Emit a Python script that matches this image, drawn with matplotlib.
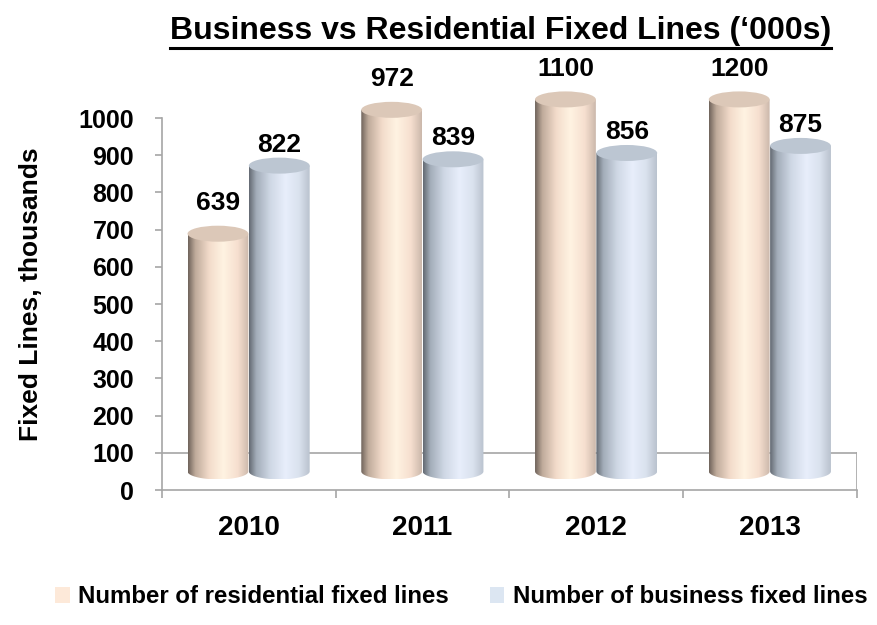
import numpy as np
import matplotlib
matplotlib.use("Agg")
import matplotlib.pyplot as plt
from matplotlib.patches import Ellipse, Polygon, Patch
from matplotlib.colors import LinearSegmentedColormap
from matplotlib.lines import Line2D

plt.rcParams['font.family'] = ['Liberation Sans', 'DejaVu Sans']
plt.rcParams['font.weight'] = 'bold'

years = ["2010", "2011", "2012", "2013"]
residential = [639, 972, 1100, 1200]
business = [822, 839, 856, 875]
y_ticks = [0, 100, 200, 300, 400, 500, 600, 700, 800, 900, 1000]

# axis cap (bars above it are cut off) and depth lift of the 3D floor
ymax_axis = 1000
depth = 50
cap_h = 43     # height of the top ellipse in data units
bar_w = 0.35

res_cmap = LinearSegmentedColormap.from_list("res", [
    (0.0, "#6f635b"), (0.12, "#bfab9b"), (0.35, "#f3dccb"),
    (0.58, "#fff3e2"), (0.82, "#f6dfcf"), (1.0, "#cbb8ab")])
bus_cmap = LinearSegmentedColormap.from_list("bus", [
    (0.0, "#646a72"), (0.12, "#a3adb9"), (0.35, "#cfd8e5"),
    (0.6, "#e8eefb"), (0.82, "#dae2ee"), (1.0, "#b9c2ce")])
res_top = "#dcc8b8"
bus_top = "#bcc6d2"

fig = plt.figure(figsize=(8.77, 6.25), dpi=100)
ax = fig.add_axes([0.1847, 0.216, 0.7925, 0.6547])
ax.set_xlim(-0.5, 3.5)
ax.set_ylim(0, 1100)

gradient = np.linspace(0, 1, 256).reshape(1, -1)


def cylinder(xc, value, cmap, top_color, z):
    x0, x1 = xc - bar_w / 2, xc + bar_w / 2
    base = depth
    top = min(value, ymax_axis) + depth
    # body outline: straight sides with a rounded bottom
    t = np.linspace(np.pi, 2 * np.pi, 60)
    bottom = np.column_stack([xc + bar_w / 2 * np.cos(t),
                              base + cap_h / 2 * np.sin(t)])
    pts = np.vstack([[x0, top], bottom, [x1, top]])
    body = Polygon(pts, closed=True, facecolor="none", edgecolor="none",
                   transform=ax.transData)
    ax.add_patch(body)
    im = ax.imshow(gradient, cmap=cmap, aspect="auto",
                   extent=(x0, x1, base - cap_h / 2, top),
                   zorder=z, interpolation="bilinear")
    im.set_clip_path(body)
    ax.add_patch(Ellipse((xc, top), bar_w, cap_h, facecolor=top_color,
                         edgecolor="none", zorder=z + 0.1))
    return top


# floor of the 3D plot
ax.plot([-0.5, 3.5], [100, 100], color="#a6a6a6", lw=1.2, zorder=1)
ax.plot([3.5, 3.5], [0, 100], color="#a6a6a6", lw=1.2, zorder=1)

for i in range(len(years)):
    xr = i - 0.178
    xb = i + 0.175
    tr = cylinder(xr, residential[i], res_cmap, res_top, 2 + i)
    tb = cylinder(xb, business[i], bus_cmap, bus_top, 2.5 + i)
    ax.annotate(str(residential[i]), (xr, tr), xytext=(0, 22),
                textcoords="offset points", ha="center", va="center",
                fontsize=19, fontweight="bold", zorder=10)
    ax.annotate(str(business[i]), (xb, tb), xytext=(0, 15),
                textcoords="offset points", ha="center", va="center",
                fontsize=19, fontweight="bold", zorder=10)

for s in ["top", "right"]:
    ax.spines[s].set_visible(False)
ax.spines["left"].set_bounds(0, 1000)
ax.spines["left"].set_color("#a6a6a6")
ax.spines["bottom"].set_color("#a6a6a6")
ax.spines["left"].set_linewidth(1.2)
ax.spines["bottom"].set_linewidth(1.2)

ax.set_yticks(y_ticks)
ax.tick_params(axis="y", length=5, width=1.2, color="#a6a6a6", pad=15,
               labelsize=18)
ax.set_xticks(range(len(years)))
ax.set_xticklabels(years)
ax.set_xticks([-0.5, 0.5, 1.5, 2.5, 3.5], minor=True)
ax.tick_params(axis="x", which="major", length=0, pad=18, labelsize=20)
ax.tick_params(axis="x", which="minor", length=6, width=1.2,
               color="#a6a6a6", direction="out")
for lab in ax.get_xticklabels() + ax.get_yticklabels():
    lab.set_fontweight("bold")

fig.text(0.035, 0.53, "Fixed Lines, thousands", rotation=90,
         ha="center", va="center", fontsize=19, fontweight="bold")

title = fig.text(0.571, 0.951, "Business vs Residential Fixed Lines (\u2018000s)",
                 ha="center", va="center", fontsize=23, fontweight="bold")
fig.canvas.draw()
bb = title.get_window_extent().transformed(fig.transFigure.inverted())
fig.add_artist(Line2D([bb.x0, bb.x1], [bb.y0 - 0.003, bb.y0 - 0.003],
                      transform=fig.transFigure, color="black", lw=2.2))

handles = [Patch(facecolor="#fde9d9", edgecolor="none"),
           Patch(facecolor="#dce6f2", edgecolor="none")]
fig.legend(handles, ["Number of residential fixed lines",
                     "Number of business fixed lines"],
           loc="center", bbox_to_anchor=(0.526, 0.045), ncol=2,
           frameon=False, handlelength=0.6, handleheight=0.6,
           handletextpad=0.35, columnspacing=1.7,
           prop={"size": 17.3, "weight": "bold"})

fig.savefig("out.png", dpi=100)
